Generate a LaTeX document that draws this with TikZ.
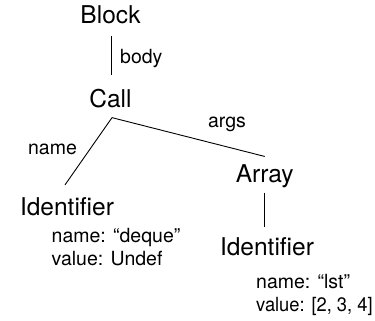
\documentclass[tikz,border=0pt]{standalone}
\usepackage{fontspec}
\setmainfont{TeX Gyre Heros}
\begin{document}
\begin{tikzpicture}[x=1pt,y=-1pt,
  tnode/.style={inner sep=0pt,anchor=base,font=\fontsize{24.5}{29}\selectfont},
  elabel/.style={inner sep=0pt,anchor=base,font=\fontsize{19.5}{23}\selectfont},
  attr/.style={inner sep=0pt,anchor=base west,font=\fontsize{19.5}{23}\selectfont},
  edge/.style={draw=black,line width=0.9pt}]
\useasboundingbox (0,0) rectangle (375,321);
\node[tnode] (block) at (110.5,24) {Block};
\node[tnode] (call) at (110.5,107) {Call};
\node[tnode] (idl) at (67,215) {Identifier};
\node[tnode] (arr) at (264.7,182) {Array};
\node[tnode] (idr) at (267,255) {Identifier};
\node[attr] (attl1) at (51.5,242) {name: “deque”};
\node[attr] (attl2) at (51.5,265) {value: Undef};
\node[attr] (attr1) at (256,288.5) {name: “lst”};
\node[attr,xscale=0.94,transform shape] (attr2) at (256,311.5) {value: [2, 3, 4]};
\node[elabel,anchor=base west] (lbody) at (120,64) {body};
\node[elabel] (lname) at (52.5,154) {name};
\node[elabel] (largs) at (227,128) {args};
\draw[edge] ([xshift=1pt,yshift=-11pt]block.south) -- ([xshift=1pt,yshift=13pt]call.north);
\draw[edge] ([xshift=1.5pt,yshift=-10pt]call.south) -- ([xshift=-2pt,yshift=12pt]idl.north);
\draw[edge] ([xshift=1.5pt,yshift=-10pt]call.south) -- ([yshift=7.5pt]arr.north);
\draw[edge] ([yshift=-5pt]arr.south) -- ([yshift=10pt]arr.south |- idr.north);
\end{tikzpicture}
\end{document}
